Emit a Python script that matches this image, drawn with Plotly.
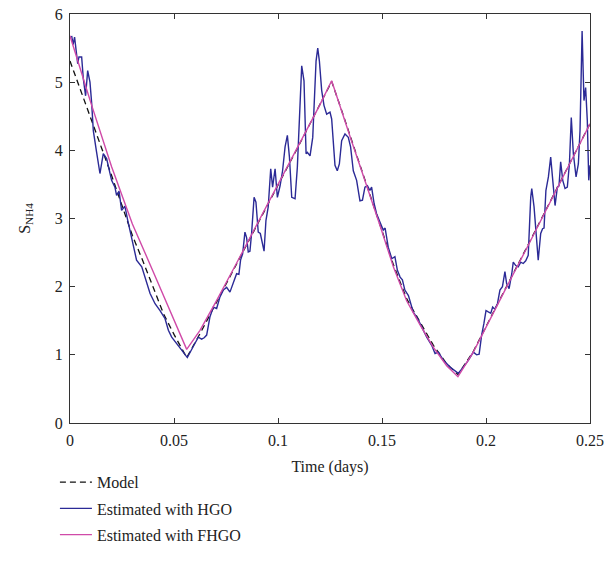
import plotly.graph_objects as go

# ---- data ----
model_t = [0, 0.005, 0.01, 0.015, 0.02, 0.025, 0.03, 0.035, 0.04, 0.045, 0.05, 0.0561,
           0.0625, 0.07, 0.08, 0.09, 0.1, 0.11, 0.12, 0.1258,
           0.13, 0.135, 0.14, 0.145, 0.149, 0.1555, 0.1619, 0.1683, 0.1747, 0.1811, 0.1865,
           0.1939, 0.2, 0.21, 0.22, 0.23, 0.24, 0.25]
model_y = [5.31, 4.88, 4.46, 4.05, 3.63, 3.20, 2.75, 2.38, 1.98, 1.60, 1.30, 0.96,
           1.31, 1.75, 2.33, 2.91, 3.49, 4.07, 4.66, 5.01,
           4.64, 4.19, 3.74, 3.29, 2.93, 2.32, 1.82, 1.47, 1.14, 0.87, 0.71,
           1.05, 1.42, 2.01, 2.60, 3.20, 3.80, 4.39]

fhgo_t = [0, 0.01, 0.02, 0.03, 0.04, 0.05, 0.0561,
          0.0625, 0.07, 0.08, 0.09, 0.1, 0.11, 0.12, 0.1258,
          0.13, 0.135, 0.14, 0.145, 0.149, 0.1555, 0.1619, 0.1683, 0.1747, 0.1811, 0.1865,
          0.1939, 0.2, 0.21, 0.22, 0.23, 0.24, 0.25]
fhgo_y = [5.68, 4.70, 3.76, 2.92, 2.22, 1.52, 1.08,
          1.36, 1.77, 2.34, 2.92, 3.50, 4.08, 4.66, 5.02,
          4.62, 4.17, 3.72, 3.27, 2.90, 2.29, 1.79, 1.44, 1.11, 0.84, 0.68,
          1.04, 1.41, 2.00, 2.59, 3.19, 3.79, 4.39]

hgo_t = [0.0008, 0.0015, 0.0022, 0.0037, 0.0043, 0.0056, 0.0064, 0.0075, 0.0085, 0.0096,
         0.0104, 0.0112, 0.0128, 0.0144, 0.0160, 0.0176, 0.0200, 0.0216, 0.0224, 0.0236,
         0.0248, 0.0264, 0.0277, 0.0290, 0.0304, 0.0320, 0.0345, 0.0360, 0.0385, 0.0409,
         0.0433, 0.0457, 0.0473, 0.0489, 0.0513, 0.0537, 0.0564, 0.0585, 0.0601, 0.0617,
         0.0633, 0.0645, 0.0657, 0.0673, 0.0689, 0.0705, 0.0721, 0.0737, 0.0753, 0.0769,
         0.0785, 0.0801, 0.0812, 0.0820, 0.0830, 0.0841, 0.0849, 0.0857, 0.0865, 0.0873,
         0.0885, 0.0894, 0.0905, 0.0915, 0.0933, 0.0942, 0.0953, 0.0965, 0.0974, 0.0986,
         0.0997, 0.1010, 0.1022, 0.1034, 0.1045, 0.1055, 0.1066, 0.1082, 0.1093, 0.1106,
         0.1114, 0.1125, 0.1135, 0.1141, 0.1154, 0.1167, 0.1175, 0.1183, 0.1191, 0.1199,
         0.1210, 0.1221, 0.1234, 0.1250, 0.1258, 0.1266, 0.1274, 0.1285, 0.1295, 0.1306,
         0.1322, 0.1338, 0.1349, 0.1362, 0.1378, 0.1394, 0.1406, 0.1418, 0.1430, 0.1442,
         0.1450, 0.1462, 0.1474, 0.1490, 0.1506, 0.1515, 0.1530, 0.1547, 0.1562, 0.1574,
         0.1587, 0.1598, 0.1610, 0.1627, 0.1638, 0.1650, 0.1675, 0.1691, 0.1715, 0.1739,
         0.1755, 0.1771, 0.1795, 0.1827, 0.1859, 0.1867, 0.1891, 0.1915, 0.1939, 0.1955,
         0.1967, 0.1979, 0.1990, 0.2000, 0.2011, 0.2023, 0.2032, 0.2043, 0.2055, 0.2067,
         0.2079, 0.2091, 0.2099, 0.2111, 0.2124, 0.2131, 0.2143, 0.2155, 0.2167, 0.2179,
         0.2191, 0.2203, 0.2215, 0.2220, 0.2231, 0.2240, 0.2251, 0.2263, 0.2272, 0.2279,
         0.2288, 0.2300, 0.2311, 0.2321, 0.2332, 0.2343, 0.2351, 0.2359, 0.2369, 0.2380,
         0.2391, 0.2401, 0.2410, 0.2420, 0.2433, 0.2444, 0.2452, 0.2462, 0.2471, 0.2479,
         0.2487, 0.2494, 0.2500]
hgo_y = [5.68, 5.55, 5.66, 5.27, 5.37, 5.37, 5.05, 4.80, 5.17, 5.00,
         4.70, 4.29, 3.97, 3.66, 3.95, 3.88, 3.56, 3.46, 3.34, 3.40,
         3.12, 3.18, 2.98, 2.80, 2.63, 2.39, 2.29, 2.14, 1.90, 1.75,
         1.65, 1.53, 1.36, 1.26, 1.17, 1.07, 0.96, 1.07, 1.17, 1.26,
         1.23, 1.25, 1.29, 1.56, 1.70, 1.68, 1.85, 1.95, 1.99, 1.92,
         2.05, 2.19, 2.18, 2.39, 2.48, 2.80, 2.72, 2.51, 2.52, 2.78,
         3.31, 3.24, 2.80, 2.78, 2.52, 2.97, 3.17, 3.73, 3.46, 3.73,
         3.31, 3.48, 3.70, 4.05, 4.22, 3.90, 3.31, 3.29, 3.75, 4.73,
         5.24, 5.02, 3.95, 3.97, 3.92, 4.19, 4.68, 5.31, 5.50, 5.31,
         4.88, 4.66, 4.53, 4.56, 4.46, 4.14, 3.78, 3.70, 3.80, 4.14,
         4.24, 4.19, 4.05, 3.70, 3.56, 3.26, 3.27, 3.46, 3.48, 3.41,
         3.46, 3.22, 3.07, 2.95, 2.83, 2.86, 2.58, 2.41, 2.44, 2.24,
         2.14, 2.10, 1.95, 1.87, 1.75, 1.63, 1.51, 1.41, 1.26, 1.14,
         1.02, 1.04, 0.92, 0.82, 0.74, 0.73, 0.82, 0.92, 1.04, 1.00,
         1.01, 1.29, 1.46, 1.65, 1.63, 1.61, 1.70, 1.67, 1.75, 1.95,
         2.00, 2.22, 2.05, 1.97, 2.19, 2.36, 2.31, 2.29, 2.36, 2.34,
         2.38, 2.46, 3.31, 3.44, 3.17, 2.78, 2.39, 2.78, 2.85, 2.86,
         3.41, 3.61, 3.90, 3.56, 3.19, 3.46, 3.48, 3.83, 3.56, 3.44,
         3.46, 3.80, 4.48, 3.95, 3.61, 3.80, 4.29, 5.75, 4.73, 4.92,
         4.44, 3.56, 3.78]

x_ticks = [0, 0.05, 0.1, 0.15, 0.2, 0.25]
y_ticks = [0, 1, 2, 3, 4, 5, 6]

FONT = "Liberation Serif"

fig = go.Figure()
fig.add_trace(go.Scatter(x=model_t, y=model_y, mode="lines", name="Model", legendgroup="m",
                         line=dict(color="#111111", width=1.3, dash="6px,4px")))
fig.add_trace(go.Scatter(x=hgo_t, y=hgo_y, mode="lines", name="Estimated with HGO",
                         legendgroup="h", line=dict(color="#2b2a96", width=1.4)))
fig.add_trace(go.Scatter(x=fhgo_t, y=fhgo_y, mode="lines", name="Estimated with FHGO",
                         legendgroup="f", line=dict(color="#d04aa8", width=1.4)))

axis_common = dict(showline=True, linecolor="#333333", linewidth=1.2, mirror="allticks",
                   ticks="inside", ticklen=5, tickcolor="#333333", showgrid=False,
                   zeroline=False, automargin=False, ticklabelstandoff=3,
                   ticklabeloverflow="allow",
                   tickfont=dict(family=FONT, size=16, color="#222222"))

fig.update_layout(
    width=616, height=573,
    margin=dict(l=70, r=26, t=14, b=150),
    paper_bgcolor="white", plot_bgcolor="white",
    font=dict(family=FONT, size=16, color="#222222"),
    xaxis=dict(range=[0, 0.25], tickvals=x_ticks, ticktext=[str(v) for v in x_ticks],
               title=dict(text="Time (days)", font=dict(family=FONT, size=16), standoff=12),
               **axis_common),
    yaxis=dict(range=[0, 6], tickvals=y_ticks,
               title=dict(text="S<sub>NH4</sub>", font=dict(family=FONT, size=16), standoff=20),
               **axis_common),
    showlegend=True,
    legend=dict(x=-0.029, y=-0.103, xanchor="left", yanchor="top", orientation="v",
                font=dict(family=FONT, size=16), bgcolor="rgba(0,0,0,0)",
                tracegroupgap=2.5, itemwidth=32),
)

fig.write_html("out.html", config={"displayModeBar": False},
               post_script="document.body.style.margin='0';")
